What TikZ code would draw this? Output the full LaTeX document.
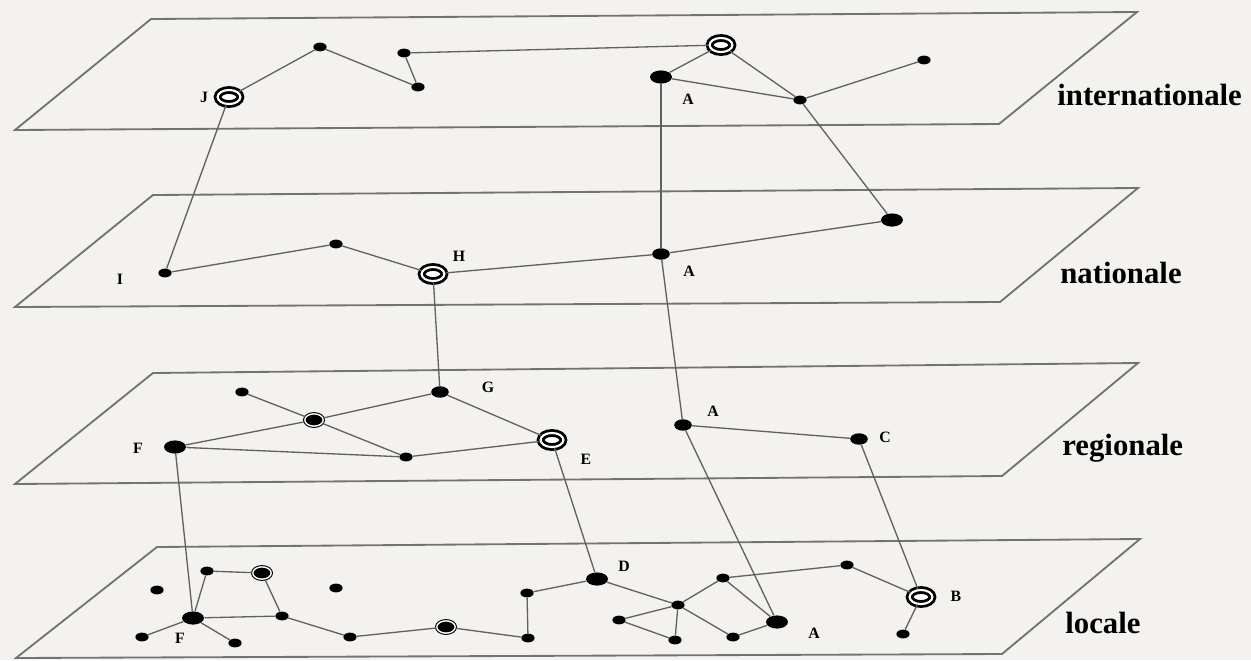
\documentclass[tikz,border=0pt]{standalone}
\usepackage{fontspec}
\setmainfont{Liberation Serif}
\usepackage{xcolor}
\usepackage{tikz}
\usetikzlibrary{shapes.geometric,positioning}
\definecolor{paper}{HTML}{F4F2EE}

\begin{document}
\begin{tikzpicture}[x=0.02cm, y=-0.02cm,
    plane/.style={draw=black!55, line width=1.05pt, line join=miter},
    link/.style={draw=black!62, line width=0.75pt},
    dot/.style={ellipse, fill=black, inner sep=0pt, minimum width=7.5pt, minimum height=5pt},
    middot/.style={dot, minimum width=10pt, minimum height=6.5pt},
    bigdot/.style={dot, minimum width=12.5pt, minimum height=7.5pt},
    hub/.style={ellipse, draw=black, fill=white, line width=1.6pt, double=white, double distance=1.2pt, inner sep=0pt, minimum width=13pt, minimum height=8pt},
    hubdot/.style={ellipse, draw=black, fill=black, line width=0.6pt, double=white, double distance=0.8pt, inner sep=0pt, minimum width=10.5pt, minimum height=7pt},
    lab/.style={font=\fontsize{9}{10}\selectfont\bfseries, inner sep=1pt},
    level/.style={font=\fontsize{17.5}{20}\selectfont\bfseries, inner sep=0pt, anchor=base west}
  ]
    \path[use as bounding box, fill=paper] (0,0) rectangle (1251,660);

    \draw[plane] (15,130) -- (151,19) -- (1137,12) -- (999,124) -- cycle;
    \draw[plane] (15,307) -- (153,195) -- (1138,188) -- (1000,302) -- cycle;
    \draw[plane] (15,484) -- (153,373) -- (1138,363) -- (1002,476) -- cycle;
    \draw[plane] (16,658) -- (157,547) -- (1140,539) -- (1002,654) -- cycle;

    \node[level] (tInt) at (1057,105) {internationale};
    \node[level] (tNat) at (1060,283) {nationale};
    \node[level] (tReg) at (1062,455) {regionale};
    \node[level] (tLoc) at (1065,633) {locale};

    \node[hub] (J) at (229,97) {};
    \node[dot] (i1) at (320,47) {};
    \node[dot] (i2) at (404,53) {};
    \node[dot] (i3) at (418,87) {};
    \node[hub] (i4) at (721,45) {};
    \node[bigdot] (Ai) at (661,77) {};
    \node[dot] (i5) at (800,100) {};
    \node[dot] (i6) at (924,60) {};

    \node[dot] (I) at (165,273) {};
    \node[dot] (n1) at (336,244) {};
    \node[hub] (H) at (433,274) {};
    \node[middot] (An) at (661,254) {};
    \node[bigdot] (n2) at (892,220) {};

    \node[dot] (r1) at (242,392) {};
    \node[hubdot] (r2) at (314,420) {};
    \node[middot] (G) at (440,392) {};
    \node[bigdot] (F) at (175,447) {};
    \node[dot] (r3) at (406,457) {};
    \node[hub] (E) at (552,440) {};
    \node[middot] (Ar) at (683,425) {};
    \node[middot] (C) at (859,439) {};

    \node[dot] (l1) at (157,590) {};
    \node[dot] (l2) at (207,571) {};
    \node[hubdot] (l3) at (262,573) {};
    \node[dot] (l4) at (336,588) {};
    \node[bigdot] (Fl) at (193,618) {};
    \node[dot] (l5) at (282,616) {};
    \node[dot] (l6) at (142,637) {};
    \node[dot] (l7) at (235,643) {};
    \node[dot] (l8) at (350,637) {};
    \node[hubdot] (l9) at (446,627) {};
    \node[dot] (l10) at (527,593) {};
    \node[dot] (l11) at (528,638) {};
    \node[bigdot] (D) at (597,579) {};
    \node[dot] (l12) at (678,605) {};
    \node[dot] (l13) at (619,620) {};
    \node[dot] (l14) at (675,640) {};
    \node[dot] (l15) at (723,578) {};
    \node[dot] (l16) at (733,637) {};
    \node[bigdot] (Al) at (777,622) {};
    \node[dot] (l17) at (847,565) {};
    \node[hub] (B) at (921,597) {};
    \node[dot] (l18) at (903,634) {};

    \node[lab] (tJ) at (204,97) {J};
    \node[lab] (tAi) at (688,99) {A};
    \node[lab] (tI) at (120,279) {I};
    \node[lab] (tH) at (459,256) {H};
    \node[lab] (tAn) at (689,271) {A};
    \node[lab] (tG) at (488,387) {G};
    \node[lab] (tF) at (138,448) {F};
    \node[lab] (tE) at (586,459) {E};
    \node[lab] (tAr) at (713,411) {A};
    \node[lab] (tC) at (885,437) {C};
    \node[lab] (tFl) at (180,638) {F};
    \node[lab] (tD) at (624,566) {D};
    \node[lab] (tAl) at (814,633) {A};
    \node[lab] (tB) at (956,596) {B};

    \draw[link] (J) -- (i1) -- (i3) -- (i2) -- (i4) -- (Ai) -- (i5) -- (i6);
    \draw[link] (i4) -- (i5);
    \draw[link] (J) -- (I);
    \draw[link] (Ai) -- (An);
    \draw[link] (i5) -- (n2);

    \draw[link] (I) -- (n1) -- (H) -- (An) -- (n2);
    \draw[link] (H) -- (G);
    \draw[link] (An) -- (Ar);

    \draw[link] (r1) -- (r2) -- (r3) -- (E) -- (G) -- (r2) -- (F) -- (r3);
    \draw[link] (Ar) -- (C);
    \draw[link] (F) -- (Fl);
    \draw[link] (E) -- (D);
    \draw[link] (Ar) -- (Al);
    \draw[link] (C) -- (B);

    \draw[link] (Fl) -- (l2) -- (l3) -- (l5) -- (Fl);
    \draw[link] (Fl) -- (l6);
    \draw[link] (Fl) -- (l7);
    \draw[link] (l5) -- (l8) -- (l9) -- (l11) -- (l10) -- (D) -- (l12) -- (l13) -- (l14) -- (l12);
    \draw[link] (l12) -- (l15) -- (Al) -- (l16) -- (l12);
    \draw[link] (l15) -- (l17) -- (B) -- (l18);
  \end{tikzpicture}
\end{document}
